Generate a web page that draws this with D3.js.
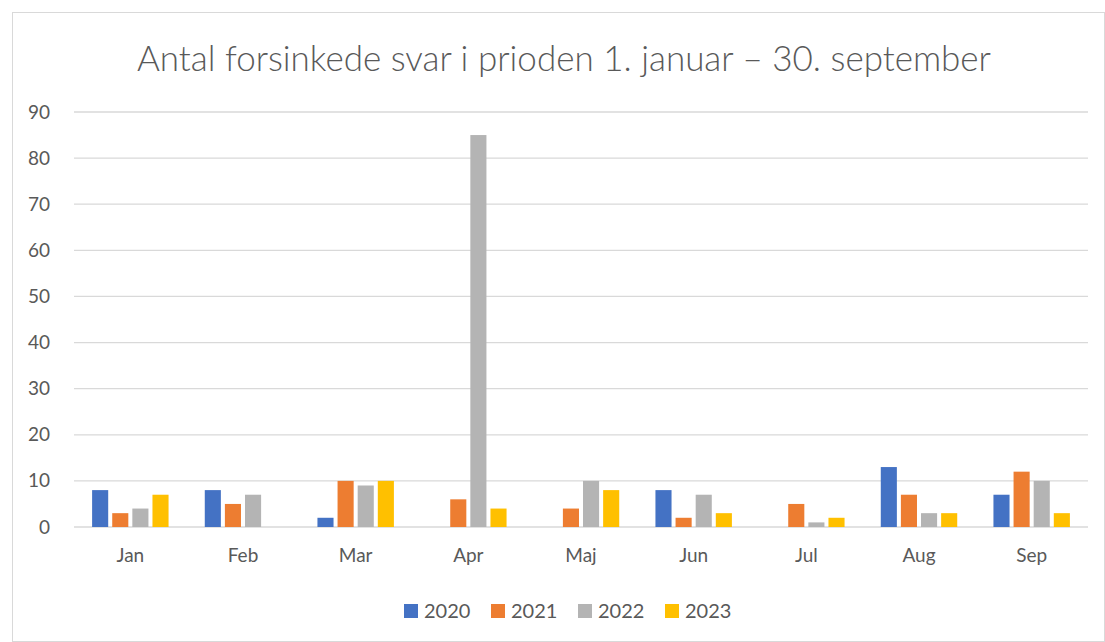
<!DOCTYPE html>
<html>
<head>
<meta charset="utf-8">
<script src="https://cdn.jsdelivr.net/npm/d3@7"></script>
<style>
  body { margin: 0; background: #fff; }
  text { font-family: Lato, "Open Sans", sans-serif; fill: #595959; }
</style>
</head>
<body>
<svg id="chart" width="1105" height="642"></svg>
<script>
const months = ["Jan", "Feb", "Mar", "Apr", "Maj", "Jun", "Jul", "Aug", "Sep"];
const years = ["2020", "2021", "2022", "2023"];
const v2020 = [8, 8, 2, 0, 0, 8, 0, 13, 7];
const v2021 = [3, 5, 10, 6, 4, 2, 5, 7, 12];
const v2022 = [4, 7, 9, 85, 10, 7, 1, 3, 10];
const v2023 = [7, 0, 10, 4, 8, 3, 2, 3, 3];
const yTicks = [0, 10, 20, 30, 40, 50, 60, 70, 80, 90];
const colors = ["#4472c4", "#ed7d31", "#b4b4b4", "#ffc000"];

const series = [v2020, v2021, v2022, v2023];
const data = months.map((m, i) => ({ month: m, values: series.map(s => s[i]) }));

const svg = d3.select("#chart");
const margin = { left: 74, right: 17, top: 112, bottom: 115 };
const width = 1105, height = 642;

// outer chart border
svg.append("rect")
  .attr("x", 12.5).attr("y", 12.5)
  .attr("width", width - 13).attr("height", height - 13)
  .attr("fill", "none").attr("stroke", "#d9d9d9");

svg.append("text")
  .attr("x", 564).attr("y", 71)
  .attr("text-anchor", "middle")
  .style("font-size", "35px")
  .style("font-weight", 300)
  .text("Antal forsinkede svar i prioden 1. januar \u2013 30. september");

const x0 = d3.scaleBand()
  .domain(months)
  .range([margin.left, width - margin.right])
  .paddingInner(0.25).paddingOuter(0.125);

const x1 = d3.scaleBand()
  .domain(years)
  .range([0, x0.bandwidth()])
  .padding(0.2);

const y = d3.scaleLinear()
  .domain([0, 90])
  .range([height - margin.bottom, margin.top]);

// gridlines
svg.append("g")
  .selectAll("line")
  .data(yTicks)
  .join("line")
  .attr("x1", margin.left).attr("x2", width - margin.right)
  .attr("y1", d => y(d)).attr("y2", d => y(d))
  .attr("stroke", "#d9d9d9").attr("stroke-width", 1.3);

const yAxis = svg.append("g")
  .attr("transform", `translate(${margin.left - 24},0)`)
  .call(d3.axisLeft(y).tickValues(yTicks).tickSize(0).tickPadding(0));
yAxis.select(".domain").remove();
yAxis.selectAll("text").style("font-size", "19px").attr("fill", "#595959");

const xAxis = svg.append("g")
  .attr("transform", `translate(0,${y(0)})`)
  .call(d3.axisBottom(x0).tickSize(0).tickPadding(22));
xAxis.select(".domain").remove();
xAxis.selectAll("text").style("font-size", "19px").attr("fill", "#595959");

// bars
svg.append("g")
  .selectAll("g")
  .data(data)
  .join("g")
  .attr("transform", d => `translate(${x0(d.month)},0)`)
  .selectAll("rect")
  .data(d => d.values.map((v, i) => ({ year: years[i], value: v, i })))
  .join("rect")
  .filter(d => d.value > 0)
  .attr("x", d => x1(d.year))
  .attr("width", x1.bandwidth())
  .attr("y", d => y(d.value))
  .attr("height", d => y(0) - y(d.value))
  .attr("fill", d => colors[d.i]);

// legend
const legend = svg.append("g").attr("transform", "translate(404,611)");
const item = legend.selectAll("g")
  .data(years)
  .join("g")
  .attr("transform", (d, i) => `translate(${i * 87},0)`);
item.append("rect")
  .attr("x", 0).attr("y", -7).attr("width", 14).attr("height", 14)
  .attr("fill", (d, i) => colors[i]);
item.append("text")
  .attr("x", 20).attr("y", 0).attr("dy", "0.35em")
  .style("font-size", "20px")
  .text(d => d);
</script>
</body>
</html>
